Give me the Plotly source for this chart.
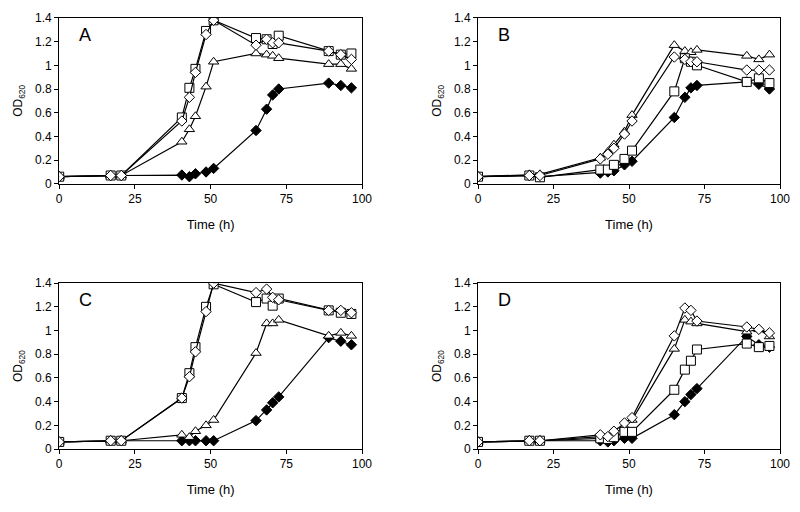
import plotly.graph_objects as go

# sampling times (h)
time_h = [0, 17, 20.5, 40.5, 43, 45, 48.5, 51, 65, 68.5, 70.5, 72.5, 89, 93, 96.5]

# OD620 per panel: open square, open diamond, open triangle, filled diamond
a_square = [0.06, 0.07, 0.07, 0.56, 0.81, 0.97, 1.29, 1.38, 1.23, 1.22, 1.18, 1.25, 1.12, 1.09, 1.10]
a_diamond = [0.06, 0.07, 0.07, 0.53, 0.73, 0.94, 1.26, 1.38, 1.17, 1.22, 1.19, 1.19, 1.12, 1.09, 1.05]
a_triangle = [0.06, 0.07, 0.07, 0.355, 0.46, 0.57, 0.82, 1.03, 1.10, 1.09, 1.08, 1.06, 1.01, 1.01, 0.97]
a_filled = [0.06, 0.07, 0.07, 0.074, 0.06, 0.085, 0.10, 0.13, 0.45, 0.63, 0.75, 0.80, 0.85, 0.83, 0.81]

b_square = [0.06, 0.07, 0.055, 0.12, 0.12, 0.16, 0.21, 0.28, 0.78, 1.06, 1.03, 1.00, 0.86, 0.89, 0.85]
b_diamond = [0.06, 0.07, 0.07, 0.21, 0.25, 0.30, 0.42, 0.53, 1.07, 1.05, 1.03, 1.03, 0.96, 0.96, 0.96]
b_triangle = [0.06, 0.08, 0.08, 0.22, 0.27, 0.33, 0.44, 0.58, 1.17, 1.12, 1.11, 1.13, 1.08, 1.05, 1.09]
b_filled = [0.06, 0.07, 0.06, 0.09, 0.10, 0.11, 0.16, 0.19, 0.56, 0.73, 0.81, 0.83, 0.86, 0.84, 0.80]

c_square = [0.06, 0.07, 0.07, 0.43, 0.64, 0.86, 1.20, 1.39, 1.24, 1.27, 1.21, 1.27, 1.17, 1.15, 1.14]
c_diamond = [0.06, 0.07, 0.07, 0.43, 0.61, 0.82, 1.16, 1.40, 1.32, 1.35, 1.28, 1.26, 1.17, 1.17, 1.15]
c_triangle = [0.06, 0.07, 0.07, 0.12, 0.10, 0.15, 0.20, 0.245, 0.81, 1.06, 1.06, 1.09, 0.955, 0.98, 0.955]
c_filled = [0.06, 0.07, 0.07, 0.07, 0.07, 0.07, 0.07, 0.07, 0.24, 0.33, 0.39, 0.44, 0.94, 0.91, 0.88]

d_square = [0.06, 0.07, 0.07, 0.09, 0.085, 0.10, 0.145, 0.145, 0.50, 0.67, 0.745, 0.84, 0.89, 0.86, 0.87]
d_diamond = [0.06, 0.07, 0.07, 0.12, 0.105, 0.15, 0.22, 0.265, 0.955, 1.19, 1.17, 1.08, 1.03, 1.01, 0.98]
d_triangle = [0.06, 0.07, 0.07, 0.105, 0.09, 0.12, 0.19, 0.245, 0.845, 1.09, 1.075, 1.06, 0.99, 1.01, 0.95]
d_filled = [0.06, 0.07, 0.07, 0.07, 0.06, 0.07, 0.09, 0.09, 0.29, 0.40, 0.46, 0.51, 0.95, 0.88, 0.86]

panels = [
    ("A", a_square, a_diamond, a_triangle, a_filled),
    ("B", b_square, b_diamond, b_triangle, b_filled),
    ("C", c_square, c_diamond, c_triangle, c_filled),
    ("D", d_square, d_diamond, d_triangle, d_filled),
]

x_ticks = [0, 25, 50, 75, 100]
y_ticks = [0, 0.2, 0.4, 0.6, 0.8, 1, 1.2, 1.4]
y_tick_text = ["0", "0.2", "0.4", "0.6", "0.8", "1", "1.2", "1.4"]

FONT = "Liberation Sans, Arial, sans-serif"
xdomains = [[0.074, 0.4525], [0.5975, 0.975], [0.074, 0.4525], [0.5975, 0.975]]
ydomains = [[0.641, 0.965], [0.641, 0.965], [0.123, 0.447], [0.123, 0.447]]

fig = go.Figure()
layout = dict(
    width=800, height=512, margin=dict(l=0, r=0, t=0, b=0),
    paper_bgcolor="white", plot_bgcolor="white", showlegend=False,
    font=dict(family=FONT, size=12, color="black"),
)
annotations = []

for i, (label, sq, di, tr, fi) in enumerate(panels):
    n = "" if i == 0 else str(i + 1)
    xa, ya = "x" + n, "y" + n
    line = dict(color="black", width=1.2)
    # draw order: filled, triangle, square, diamond (diamond on top)
    fig.add_scatter(x=time_h, y=fi, xaxis=xa, yaxis=ya, mode="lines+markers", line=line,
                    marker=dict(symbol="diamond", size=8, color="black", line=dict(color="black", width=1)))
    fig.add_scatter(x=time_h, y=tr, xaxis=xa, yaxis=ya, mode="lines+markers", line=line,
                    marker=dict(symbol="triangle-up", size=9, color="white", line=dict(color="black", width=1)))
    fig.add_scatter(x=time_h, y=sq, xaxis=xa, yaxis=ya, mode="lines+markers", line=line,
                    marker=dict(symbol="square", size=9, color="white", line=dict(color="black", width=1)))
    fig.add_scatter(x=time_h, y=di, xaxis=xa, yaxis=ya, mode="lines+markers", line=line,
                    marker=dict(symbol="diamond", size=8, color="white", line=dict(color="black", width=1)))

    layout["xaxis" + n] = dict(
        domain=xdomains[i], range=[0, 100], anchor=ya, tickvals=x_ticks, automargin=False,
        showline=True, mirror=True, linecolor="black", linewidth=1,
        ticks="outside", ticklen=4, tickcolor="black", showgrid=False, zeroline=False,
        tickfont=dict(size=12),
        title=dict(text="Time (h)", font=dict(size=13), standoff=14),
    )
    layout["yaxis" + n] = dict(
        domain=ydomains[i], range=[0, 1.4], anchor=xa, tickvals=y_ticks, ticktext=y_tick_text,
        automargin=False,
        showline=True, mirror=True, linecolor="black", linewidth=1,
        ticks="outside", ticklen=4, tickcolor="black", showgrid=False, zeroline=False,
        tickfont=dict(size=12),
        title=dict(text="OD<sub>620</sub>", font=dict(size=12), standoff=9),
    )
    annotations.append(dict(
        text=label, xref=xa + " domain", yref=ya + " domain", x=0.058, y=0.9,
        xanchor="left", yanchor="middle", showarrow=False, font=dict(size=18, family=FONT),
    ))

layout["annotations"] = annotations
fig.update_layout(**layout)
# drop the default 8px page margin so the figure sits at the window's corner
fig.write_html("out.html", config={"displayModeBar": False},
               post_script="document.body.style.margin = '0';")
